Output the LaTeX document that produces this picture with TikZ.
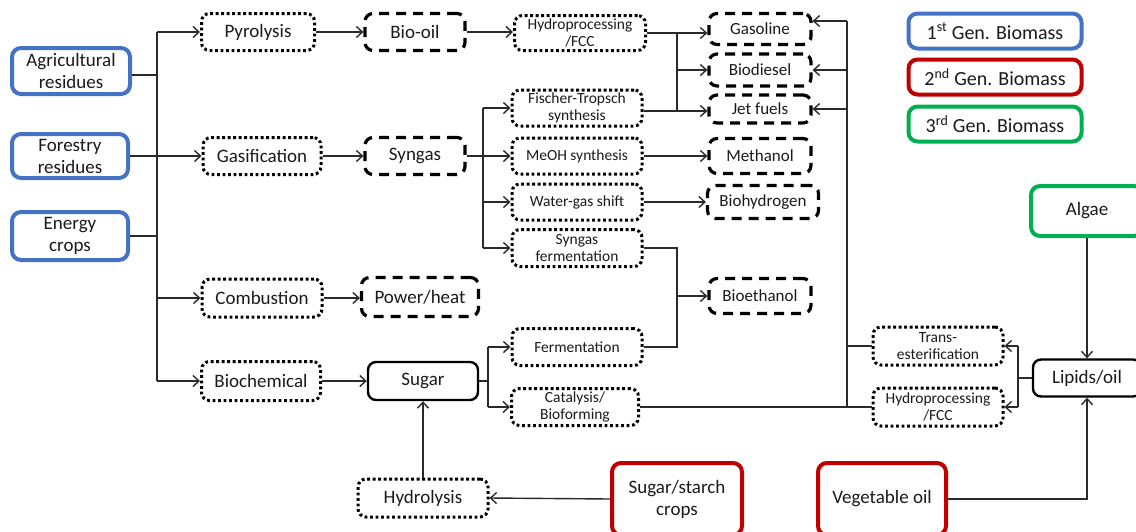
\documentclass[tikz,border=0pt]{standalone}
\usepackage{fontspec}
\setmainfont{Carlito}
\usetikzlibrary{arrows.meta}
\definecolor{genblue}{HTML}{4472C4}
\definecolor{genred}{HTML}{C00000}
\definecolor{gengreen}{HTML}{00B050}
\definecolor{ink}{HTML}{1A1A1A}
\definecolor{wire}{HTML}{2A2A2A}
\begin{document}
\begin{tikzpicture}[x=1pt,y=-1pt,
  every node/.style={inner sep=0pt, align=center, text=ink},
  bigf/.style={font=\fontsize{19}{22}\selectfont},
  midf/.style={font=\fontsize{17}{20}\selectfont},
  smallf/.style={font=\fontsize{15.5}{17.5}\selectfont},
  legf/.style={font=\fontsize{20}{23}\selectfont},
  genbox/.style={line width=4pt, rounded corners=9pt, fill=white},
  bluebox/.style={genbox, draw=genblue},
  redbox/.style={genbox, draw=genred},
  greenbox/.style={genbox, draw=gengreen},
  procbox/.style={draw=black, line width=3pt, dash pattern=on 2.8pt off 2.7pt, rounded corners=8pt},
  prodbox/.style={draw=black, line width=3.2pt, dash pattern=on 10pt off 7pt, rounded corners=8pt},
  solidbox/.style={draw=black, line width=2.4pt, rounded corners=8pt},
  wline/.style={draw=wire, line width=1.4pt},
  arr/.style={wline, -{Straight Barb[length=6pt,width=11pt,line width=1.4pt]}}
]
\useasboundingbox (0,0) rectangle (1136,531);

% sources
\node[bluebox,bigf,minimum width=118pt,minimum height=46pt] (agri) at (71,71) {Agricultural\\residues};
\node[bluebox,bigf,minimum width=116pt,minimum height=44pt] (forest) at (70,156) {Forestry\\residues};
\node[bluebox,bigf,minimum width=116pt,minimum height=48pt] (energy) at (70,236) {Energy\\crops};

% first stage processes
\node[procbox,bigf,minimum width=113pt,minimum height=37pt] (pyro) at (258,32) {Pyrolysis};
\node[procbox,bigf,minimum width=118pt,minimum height=37pt] (gasif) at (262,156) {Gasification};
\node[procbox,bigf,minimum width=120pt,minimum height=38pt] (comb) at (262,298) {Combustion};
\node[procbox,bigf,minimum width=119pt,minimum height=39pt] (bioch) at (261,381) {Biochemical};

% intermediates
\node[prodbox,bigf,minimum width=100pt,minimum height=37pt] (biooil) at (415,32) {Bio-oil};
\node[prodbox,bigf,minimum width=100pt,minimum height=37pt] (syngas) at (415,156) {Syngas};
\node[prodbox,bigf,minimum width=117pt,minimum height=39pt] (power) at (420,297) {Power/heat};
\node[solidbox,bigf,minimum width=110pt,minimum height=38pt] (sugar) at (423,381) {Sugar};
\node[procbox,bigf,minimum width=130pt,minimum height=38pt] (hydrol) at (423,498) {Hydrolysis};

% second stage processes
\node[procbox,smallf,minimum width=131pt,minimum height=35pt] (hydroA) at (580,33) {Hydroprocessing\\/FCC};
\node[procbox,smallf,minimum width=130pt,minimum height=36pt] (ft) at (577,108) {Fischer-Tropsch\\synthesis};
\node[procbox,smallf,minimum width=130pt,minimum height=36pt] (meoh) at (577,156) {MeOH synthesis};
\node[procbox,smallf,minimum width=130pt,minimum height=36pt] (wgs) at (577,202) {Water-gas shift};
\node[procbox,smallf,minimum width=130pt,minimum height=37pt] (sferm) at (577,248) {Syngas\\fermentation};
\node[procbox,smallf,minimum width=130pt,minimum height=37pt] (ferm) at (577,347) {Fermentation};
\node[procbox,smallf,minimum width=127pt,minimum height=37pt] (cat) at (575,407) {Catalysis/\\Bioforming};

% products
\node[prodbox,midf,minimum width=102pt,minimum height=31pt] (gasoline) at (760,29) {Gasoline};
\node[prodbox,midf,minimum width=102pt,minimum height=32pt] (biodiesel) at (760,70) {Biodiesel};
\node[prodbox,midf,minimum width=102pt,minimum height=28pt] (jet) at (760,109) {Jet fuels};
\node[prodbox,midf,minimum width=102pt,minimum height=35pt] (methanol) at (760,156) {Methanol};
\node[prodbox,midf,minimum width=111pt,minimum height=33pt] (biohyd) at (763,202) {Biohydrogen};
\node[prodbox,midf,minimum width=102pt,minimum height=35pt] (bioeth) at (760,296) {Bioethanol};

% lipid route
\node[procbox,smallf,minimum width=130pt,minimum height=38pt] (trans) at (938,346) {Trans-\\esterification};
\node[procbox,smallf,minimum width=130pt,minimum height=38pt] (hydroB) at (938,407) {Hydroprocessing\\/FCC};
\node[solidbox,bigf,minimum width=108pt,minimum height=37pt] (lipids) at (1087,378) {Lipids/oil};
\node[greenbox,bigf,minimum width=112pt,minimum height=50pt] (algae) at (1087,211) {Algae};
\node[redbox,bigf,minimum width=128pt,minimum height=72pt] (vegoil) at (882,499) {Vegetable oil};
\node[redbox,bigf,minimum width=130pt,minimum height=72pt] (sugcrops) at (677,499) {Sugar/starch\\crops};

% legend
\node[bluebox,legf,minimum width=173pt,minimum height=35pt] (leg1) at (995,31) {1\textsuperscript{st} Gen. Biomass};
\node[redbox,legf,minimum width=173pt,minimum height=35pt] (leg2) at (995,77) {2\textsuperscript{nd} Gen. Biomass};
\node[greenbox,legf,minimum width=173pt,minimum height=35pt] (leg3) at (995,124) {3\textsuperscript{rd} Gen. Biomass};

% ---- connectors ----
\coordinate (trunkT) at (157,32);
\coordinate (trunkB) at (157,381);
\draw[wline] (trunkT) -- (trunkB);
\draw[wline] ([yshift=-4pt]agri.east) -- ([yshift=-4pt]agri.east -| trunkT);
\draw[wline] (energy.east) -- (energy.east -| trunkT);
\draw[arr] (trunkT) -- (pyro.west);
\draw[arr] (forest.east) -- (gasif.west);
\draw[arr] (comb.west -| trunkB) -- (comb.west);
\draw[arr] (trunkB) -- (bioch.west);

\draw[arr] (pyro.east) -- (biooil.west);
\draw[arr] (gasif.east) -- (syngas.west);
\draw[arr] (comb.east) -- (comb.east -| power.west);
\draw[arr] (bioch.east) -- (sugar.west);
\draw[arr] (biooil.east) -- (hydroA.west |- biooil.east);

% syngas splitter
\coordinate (sgT) at (483,108);
\coordinate (sgB) at (483,248);
\draw[wline] (sgT) -- (sgB);
\draw[arr] (sgT) -- (ft.west);
\draw[arr] (syngas.east) -- (meoh.west);
\draw[arr] (wgs.west -| sgT) -- (wgs.west);
\draw[arr] (sgB) -- (sferm.west);
\draw[arr] (meoh.east) -- (methanol.west);
\draw[arr] (wgs.east) -- (biohyd.west);

% fuels merge
\coordinate (fmT) at (677,33);
\coordinate (fmB) at (677,111);
\draw[wline] (fmT) -- (fmB);
\draw[arr] (hydroA.east) -- (hydroA.east -| gasoline.west);
\draw[arr] (biodiesel.west -| fmT) -- (biodiesel.west);
\draw[wline] (ft.east |- fmB) -- (fmB);
\draw[arr] (fmB) -- (jet.west |- fmB);

% ethanol merge
\coordinate (emT) at (677,248);
\coordinate (emB) at (677,347);
\draw[wline] (sferm.east) -- (emT) -- (emB) -- (ferm.east);
\draw[arr] (bioeth.west -| emT) -- (bioeth.west);

% sugar splitter
\coordinate (ssT) at (488,347);
\coordinate (ssB) at (488,407);
\draw[wline] (sugar.east) -- (sugar.east -| ssT);
\draw[wline] (ssT) -- (ssB);
\draw[arr] (ssT) -- (ferm.west);
\draw[arr] (ssB) -- (cat.west);
\draw[arr] (hydrol.north) -- (sugar.south);
\draw[arr] (sugcrops.west) -- (hydrol.east);

% right collector
\coordinate (rvT) at (847,21);
\coordinate (rvB) at (847,407);
\draw[wline] (rvT) -- (rvB);
\draw[arr] (rvT) -- ([yshift=8pt]gasoline.east);
\draw[arr] (biodiesel.east -| rvT) -- (biodiesel.east);
\draw[arr] (jet.east -| rvT) -- (jet.east);
\draw[wline] (cat.east) -- (hydroB.west);
\draw[wline] (trans.west) -- (trans.west -| rvT);

% lipid splitter
\coordinate (lsT) at (1018,346);
\coordinate (lsB) at (1018,407);
\draw[wline] (lipids.west) -- (lipids.west -| lsT);
\draw[wline] (lsT) -- (lsB);
\draw[arr] (lsT) -- (trans.east);
\draw[arr] (lsB) -- (hydroB.east);
\draw[arr] (algae.south) -- (lipids.north);
\draw[arr] (vegoil.east) -- (vegoil.east -| lipids.south) -- (lipids.south);
\end{tikzpicture}
\end{document}
